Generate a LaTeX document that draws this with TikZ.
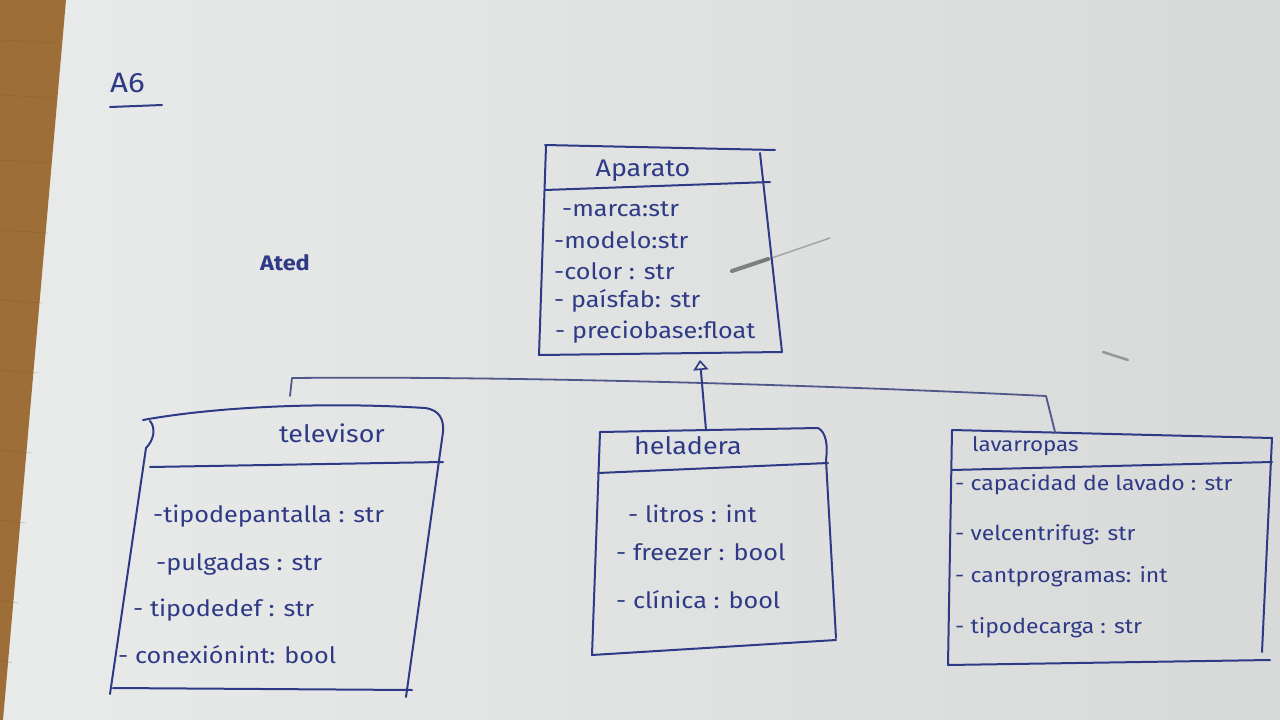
\documentclass[tikz,border=0pt]{standalone}
\usepackage{fontspec}
\setmainfont{Fira Sans}[FakeStretch=1.12]
\usetikzlibrary{arrows.meta}
\definecolor{ink}{HTML}{2E3A86}
\definecolor{inkgrey}{HTML}{50578A}
\definecolor{paperL}{HTML}{E9EBEA}
\definecolor{paperR}{HTML}{D8DAD9}
\definecolor{wood}{HTML}{9E6E38}
\definecolor{wooddark}{HTML}{7A5026}
\definecolor{pencil}{HTML}{5E6062}
\begin{document}
\begin{tikzpicture}[x=1pt,y=-1pt,
  outline/.style={draw=ink, line width=2pt, line cap=round, line join=round},
  attr/.style={anchor=mid west, inner sep=0pt, text=ink, font=\fontsize{22.5}{26}\selectfont},
  cname/.style={anchor=mid, inner sep=0pt, text=ink, font=\fontsize{24}{28}\selectfont},
  link/.style={draw=inkgrey, line width=1.8pt, line cap=round, line join=round},
]
\useasboundingbox (0,0) rectangle (1280,720);
% sheet of paper and the desk edge on the left
\shade[left color=paperL, right color=paperR] (0,0) rectangle (1280,720);
\fill[wood] (0,0) -- (66,0) -- (3,720) -- (0,720) -- cycle;
\foreach \y/\w in {40/60,95/55,160/52,230/48,300/42,370/38,450/32,520/26,600/18,660/12}
  \draw[wooddark, line width=0.6pt, opacity=0.3] (0,\y) -- (\w,\y+3);

% heading
\node[anchor=mid west, inner sep=0pt, text=ink, font=\fontsize{28}{30}\selectfont] (title) at (110,90) {A6};
\draw[outline] (110,107) -- (162,105);
\node[anchor=mid west, inner sep=0pt, text=ink, font=\fontsize{21}{24}\selectfont\bfseries] (scribble) at (260,268) {Ated};

% pencil marks
\draw[pencil, line width=4pt, line cap=round, opacity=0.75] (732,271) -- (768,259);
\draw[pencil, line width=1.5pt, line cap=round, opacity=0.45] (760,262) -- (830,238);
\draw[pencil, line width=2.5pt, line cap=round, opacity=0.55] (1103,352) -- (1128,360);

% class Aparato
\draw[outline] (545,145) -- (775,150);
\draw[outline] (546,146) -- (539,355) -- (782,352) -- (760,153);
\draw[outline] (545,190) -- (770,182);
\node[cname] (aparato) at (643,174) {Aparato};
\node[attr] (ap1) at (562,214) {-marca:str};
\node[attr] (ap2) at (554,246) {-modelo:str};
\node[attr] (ap3) at (554,277) {-color : str};
\node[attr] (ap4) at (554,305) {- paísfab: str};
\node[attr] (ap5) at (555,336) {- preciobase:float};
\coordinate (apa-tip) at (700,360);

% class televisor
\draw[outline] (143,420) .. controls (220,406) and (330,402) .. (425,408)
  .. controls (440,410) and (444,420) .. (443,432) -- (406,697);
\draw[outline] (150,421) .. controls (156,428) and (154,440) .. (146,448) -- (110,694);
\draw[outline] (113,688) -- (412,690);
\draw[outline] (150,467) -- (443,462);
\node[cname] (televisor) at (332,440) {televisor};
\node[attr] (tv1) at (153,520) {-tipodepantalla : str};
\node[attr] (tv2) at (156,568) {-pulgadas : str};
\node[attr] (tv3) at (133,614) {- tipodedef : str};
\node[attr] (tv4) at (118,661) {- conexiónint: bool};
\coordinate (tv-top) at (290,396);

% class heladera
\draw[outline] (600,432) -- (818,428) .. controls (826,432) and (828,445) .. (826,460) -- (836,638);
\draw[outline] (600,432) -- (592,655) -- (836,640);
\draw[outline] (598,473) -- (828,463);
\node[cname, anchor=mid west] (heladera) at (634,452) {heladera};
\node[attr] (he1) at (628,520) {- litros : int};
\node[attr] (he2) at (616,558) {- freezer : bool};
\node[attr] (he3) at (616,606) {- clínica : bool};
\coordinate (hel-top) at (706,430);

% class lavarropas
\draw[outline] (952,430) -- (1272,438) -- (1262,652);
\draw[outline] (952,430) -- (948,665) -- (1270,660);
\draw[outline] (952,470) -- (1272,462);
\node[cname, anchor=mid west, font=\fontsize{20}{24}\selectfont] (lavarropas) at (972,449) {lavarropas};
\node[attr, font=\fontsize{20.5}{24}\selectfont] (la1) at (955,488) {- capacidad de lavado : str};
\node[attr, font=\fontsize{20.5}{24}\selectfont] (la2) at (955,538) {- velcentrifug: str};
\node[attr, font=\fontsize{20.5}{24}\selectfont] (la3) at (955,580) {- cantprogramas: int};
\node[attr, font=\fontsize{20.5}{24}\selectfont] (la4) at (955,631) {- tipodecarga : str};
\coordinate (lav-top) at (1055,432);

% generalisation: the three subclasses share one line up to Aparato
\coordinate (bus-l) at (292,378);
\coordinate (bus-r) at (1046,396);
\draw[link] (tv-top) -- (bus-l) .. controls (500,376) and (800,384) .. (bus-r) -- (lav-top);
\draw[draw=ink, line width=2pt, -{Triangle[open, length=10pt, width=15pt, line width=1.6pt]}] (hel-top) -- (apa-tip);
\end{tikzpicture}
\end{document}
